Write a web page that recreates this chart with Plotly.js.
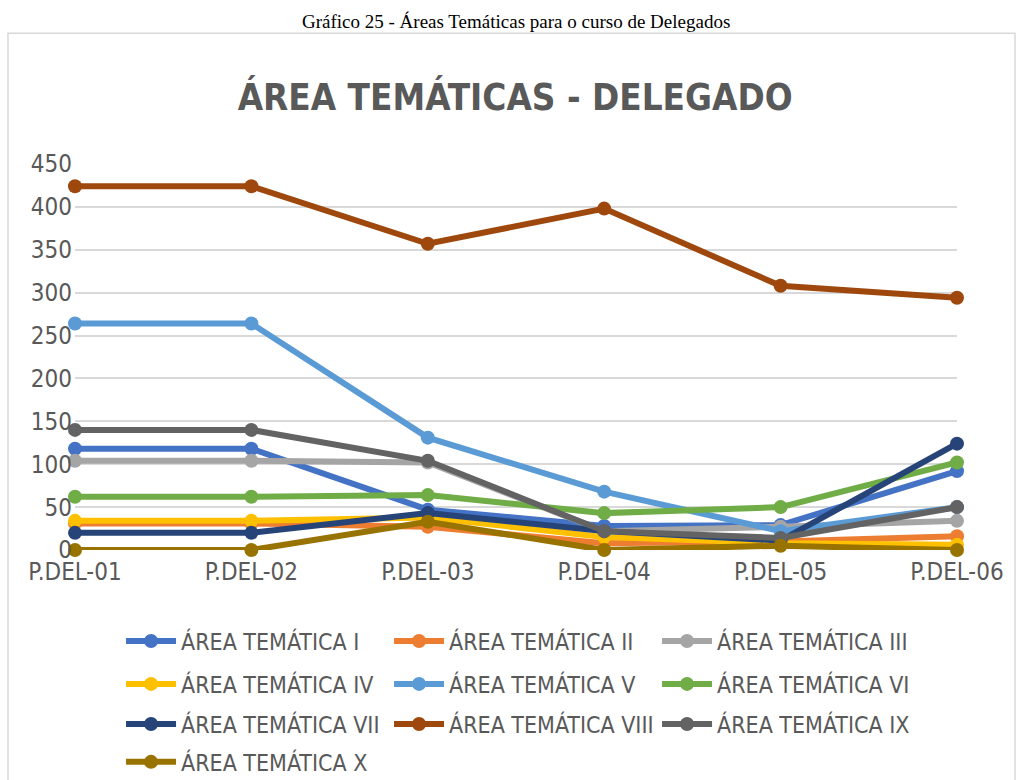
<!DOCTYPE html>
<html>
<head>
<meta charset="utf-8">
<script src="https://cdn.plot.ly/plotly-3.0.1.min.js"></script>
<style>
  html, body { margin: 0; background: #fff; overflow: hidden; }
  #chart { width: 1016px; height: 800px; }
</style>
</head>
<body>
<div id="chart"></div>
<script>
// categories (x axis)
const periods = ['P.DEL-01', 'P.DEL-02', 'P.DEL-03', 'P.DEL-04', 'P.DEL-05', 'P.DEL-06'];

// values, one array per thematic area
const area1 = [118, 118, 47, 28, 29, 92];
const area2 = [31, 31, 27, 8, 10, 16];
const area3 = [104, 104, 102, 22, 27, 34];
const area4 = [34, 34, 38, 15, 8, 6];
const area5 = [264, 264, 131, 68, 22, 50];
const area6 = [62, 62, 64, 43, 50, 102];
const area7 = [20, 20, 43, 22, 11, 124];
const area8 = [424, 424, 357, 398, 308, 294];
const area9 = [140, 140, 104, 22, 14, 50];
const area10 = [0, 0, 33, 0, 5, 0];

const names = ['ÁREA TEMÁTICA I', 'ÁREA TEMÁTICA II', 'ÁREA TEMÁTICA III', 'ÁREA TEMÁTICA IV',
  'ÁREA TEMÁTICA V', 'ÁREA TEMÁTICA VI', 'ÁREA TEMÁTICA VII', 'ÁREA TEMÁTICA VIII',
  'ÁREA TEMÁTICA IX', 'ÁREA TEMÁTICA X'];
const series = [area1, area2, area3, area4, area5, area6, area7, area8, area9, area10];
const colors = ['#4472C4', '#ED7D31', '#A5A5A5', '#FFC000', '#5B9BD5', '#70AD47',
  '#264478', '#9E480E', '#636363', '#997300'];

const cond = '"DejaVu Sans Condensed", "DejaVu Sans", sans-serif';

// one legend per row, three entries per row like the original
const legendIds = ['legend', 'legend2', 'legend3', 'legend4'];
const rowY = [-0.236, -0.347, -0.451, -0.549];

const data = series.map((vals, i) => ({
  x: [0, 1, 2, 3, 4, 5],
  y: vals,
  type: 'scatter',
  mode: 'lines+markers',
  name: names[i],
  legend: legendIds[Math.floor(i / 3)],
  line: { color: colors[i], width: 6 },
  marker: { color: colors[i], size: 14 },
  cliponaxis: false
}));

// figure is a bit taller than the window so the last legend row
// does not push the plot area; the page crops it at 780px
const layout = {
  width: 1016,
  height: 800,
  margin: { l: 75, r: 59, t: 164, b: 250 },
  paper_bgcolor: '#fff',
  plot_bgcolor: '#fff',
  showlegend: true,
  title: {
    text: '<b>ÁREA TEMÁTICAS - DELEGADO</b>',
    font: { family: cond, size: 36.5, color: '#595959' },
    x: 0.507, xanchor: 'center',
    y: 1 - 97 / 800, yanchor: 'middle'
  },
  xaxis: {
    range: [0, 5],
    tickvals: [0, 1, 2, 3, 4, 5],
    ticktext: periods,
    showgrid: false,
    zeroline: false,
    showline: false,
    ticks: '',
    automargin: false,
    tickfont: { family: cond, size: 24, color: '#595959' },
    ticklabelstandoff: 5
  },
  yaxis: {
    range: [0, 450],
    dtick: 50,
    showgrid: true,
    gridcolor: '#D9D9D9',
    gridwidth: 2,
    zeroline: false,
    showline: false,
    ticks: '',
    automargin: false,
    tickfont: { family: cond, size: 24, color: '#595959' },
    ticklabelstandoff: 2
  },
  annotations: [{
    text: 'Gráfico 25 - Áreas Temáticas para o curso de Delegados',
    xref: 'paper', yref: 'paper',
    x: 0.5, y: 1.368, xanchor: 'center', yanchor: 'middle',
    showarrow: false,
    font: { family: '"Liberation Serif", serif', size: 19, color: '#000' }
  }],
  shapes: [{
    type: 'rect', xref: 'paper', yref: 'paper',
    x0: -0.076, x1: 1.0658, y0: -0.64, y1: 1.339,
    line: { color: '#D9D9D9', width: 1.5 },
    layer: 'below'
  }]
};

legendIds.forEach((id, r) => {
  layout[id] = {
    orientation: 'h',
    x: 0.0522, xanchor: 'left',
    y: rowY[r], yanchor: 'middle',
    entrywidth: 203,
    entrywidthmode: 'pixels',
    itemwidth: 50,
    font: { family: cond, size: 23, color: '#595959' },
    bgcolor: 'rgba(0,0,0,0)'
  };
});

Plotly.newPlot('chart', data, layout, { displayModeBar: false, staticPlot: true });
</script>
</body>
</html>
